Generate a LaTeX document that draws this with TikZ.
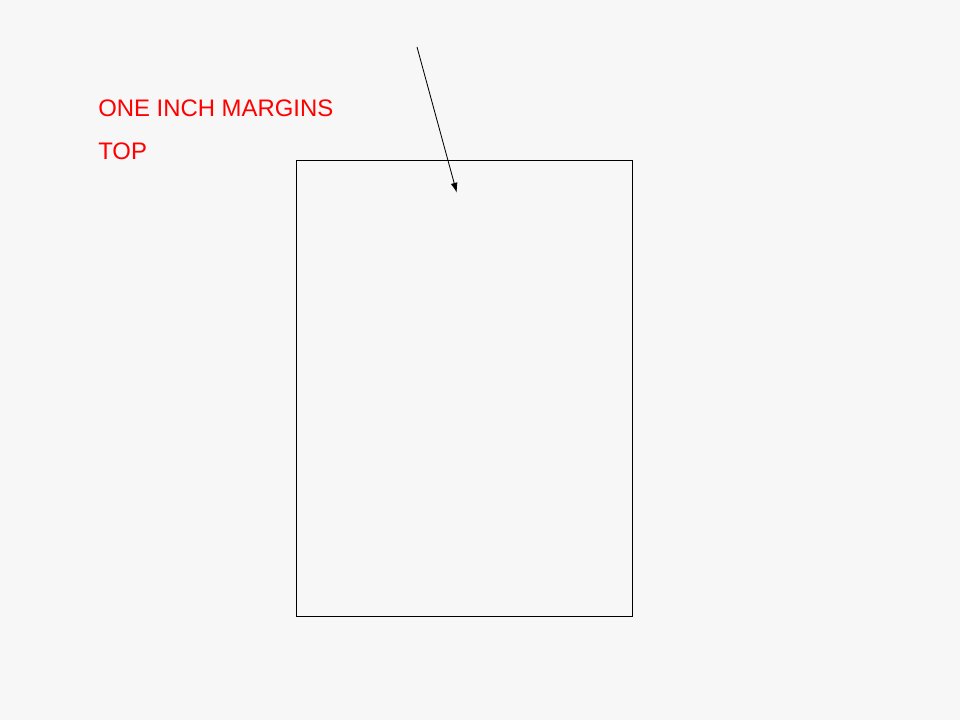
\documentclass[tikz,border=0pt]{standalone}
\usepackage{fontspec}
\setmainfont{Liberation Sans}
\usetikzlibrary{arrows.meta}
\definecolor{slidebg}{HTML}{F7F7F7}
\begin{document}
\begin{tikzpicture}[label text/.style={text=red,inner sep=0,anchor=base west,font=\fontsize{17pt}{20pt}\selectfont}]
\fill[slidebg](0,0)rectangle(24cm,18cm);
\useasboundingbox(0,0)rectangle(24cm,18cm);
\draw(2.45cm,15.0875cm)node[label text](M){ONE INCH MARGINS};
\draw(M.base west)++(0,-1.0875cm)node[label text](T){TOP};
\draw[line width=0.6pt](7.4cm,2.5875cm)node[inner sep=0,anchor=south west,draw,minimum width=8.4cm,minimum height=11.4cm](P){};
\coordinate(S)at(10.425cm,16.825cm);
\coordinate(E)at(11.42cm,13.18cm);
\draw[line width=0.6pt,-{Latex[length=0.25cm,width=0.17cm]}](S)--(E);
\end{tikzpicture}
\end{document}
